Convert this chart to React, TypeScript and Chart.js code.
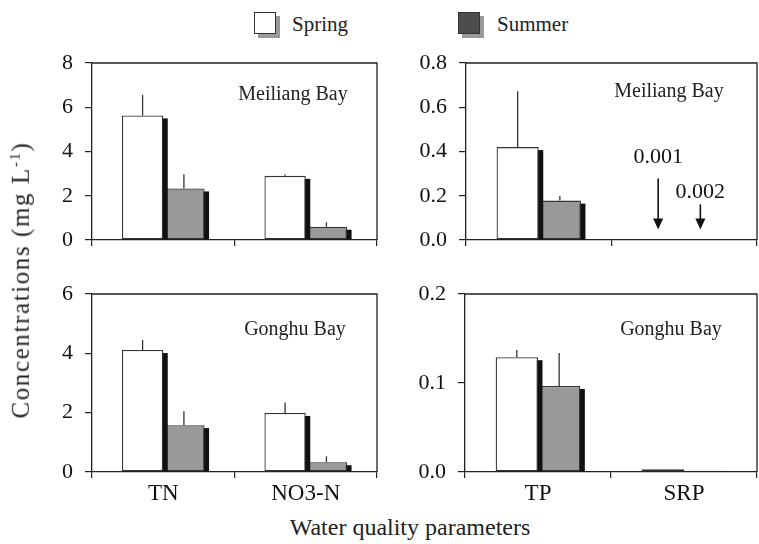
import React, { useEffect, useRef } from 'react';
import { Chart, registerables } from 'chart.js';

Chart.register(...registerables);

const FONT = '"Liberation Serif", "Times New Roman", Times, "DejaVu Serif", serif';

// ---- data ----
const nCategories = ['TN', 'NO3-N'];
const pCategories = ['TP', 'SRP'];
const seriesNames = ['Spring', 'Summer'];

const meiliangNSpring = [5.63, 2.9];
const meiliangNSummer = [2.33, 0.6];
const meiliangNSpringErr = [0.93, 0.07];
const meiliangNSummerErr = [0.64, 0.2];

const meiliangPSpring = [0.42, 0.001];
const meiliangPSummer = [0.178, 0.002];
const meiliangPSpringErr = [0.252, 0];
const meiliangPSummerErr = [0.021, 0];

const gonghuNSpring = [4.11, 1.99];
const gonghuNSummer = [1.58, 0.33];
const gonghuNSpringErr = [0.34, 0.35];
const gonghuNSummerErr = [0.47, 0.2];

const gonghuPSpring = [0.129, 0.003];
const gonghuPSummer = [0.0966, 0.0015];
const gonghuPSpringErr = [0.008, 0];
const gonghuPSummerErr = [0.037, 0];

const nTicksMeiliang = [0, 2, 4, 6, 8];
const pTicksMeiliang = [0, 0.2, 0.4, 0.6, 0.8];
const nTicksGonghu = [0, 2, 4, 6];
const pTicksGonghu = [0, 0.1, 0.2];

type Arrow = { dataset: number; index: number; text: string; tail: number; labelOffset: number };

type PanelProps = {
  left: number;
  top: number;
  width: number;
  height: number;
  axisWidth: number;
  axisHeight: number;
  padRight: number;
  labels: string[];
  spring: number[];
  summer: number[];
  springErr: number[];
  summerErr: number[];
  ticks: number[];
  decimals: number;
  title: string;
  titleDx: number;
  titleDy: number;
  showX: boolean;
  arrows?: Arrow[];
};

function Panel(p: PanelProps) {
  const ref = useRef<HTMLCanvasElement | null>(null);
  useEffect(() => {
    if (!ref.current) return;
    const errs = [p.springErr, p.summerErr];
    const panelPlugin = {
      id: 'panelDecor',
      beforeDatasetDraw(chart: any, args: any) {
        const ctx = chart.ctx;
        ctx.save();
        ctx.fillStyle = '#111111';
        args.meta.data.forEach((el: any) => {
          const { x, y, base, width } = el.getProps(['x', 'y', 'base', 'width'], true);
          const h = base - y - 3;
          if (h > 0) ctx.fillRect(x - width / 2 + 4.5, y + 3, width, h);
        });
        ctx.restore();
      },
      afterDatasetsDraw(chart: any) {
        const ctx = chart.ctx;
        const ys = chart.scales.y;
        ctx.save();
        ctx.strokeStyle = '#333333';
        ctx.lineWidth = 1.3;
        chart.data.datasets.forEach((ds: any, i: number) => {
          const meta = chart.getDatasetMeta(i);
          meta.data.forEach((el: any, j: number) => {
            const e = errs[i][j];
            if (!e) return;
            const { x, y } = el.getProps(['x', 'y'], true);
            const yt = ys.getPixelForValue(ds.data[j] + e);
            ctx.beginPath();
            ctx.moveTo(x, y);
            ctx.lineTo(x, yt);
            ctx.stroke();
          });
        });
        ctx.restore();
      },
      afterDraw(chart: any) {
        const ctx = chart.ctx;
        const a = chart.chartArea;
        ctx.save();
        ctx.strokeStyle = '#222222';
        ctx.lineWidth = 1.3;
        ctx.beginPath();
        ctx.moveTo(a.left, a.top);
        ctx.lineTo(a.right, a.top);
        ctx.lineTo(a.right, a.bottom);
        ctx.stroke();
        ctx.fillStyle = '#222222';
        ctx.font = `20px ${FONT}`;
        ctx.textAlign = 'center';
        ctx.textBaseline = 'middle';
        ctx.fillText(p.title, a.right - p.titleDx, a.top + p.titleDy);
        (p.arrows || []).forEach((ar) => {
          const el = chart.getDatasetMeta(ar.dataset).data[ar.index];
          const { x, base } = el.getProps(['x', 'base'], true);
          const ax = x - 5;
          const tip = base - 10;
          const tail = base - ar.tail;
          ctx.strokeStyle = '#111111';
          ctx.lineWidth = 1.6;
          ctx.beginPath();
          ctx.moveTo(ax, tail);
          ctx.lineTo(ax, tip - 10);
          ctx.stroke();
          ctx.fillStyle = '#111111';
          ctx.beginPath();
          ctx.moveTo(ax - 5, tip - 11);
          ctx.lineTo(ax + 5, tip - 11);
          ctx.lineTo(ax, tip);
          ctx.closePath();
          ctx.fill();
          ctx.font = `22px ${FONT}`;
          ctx.fillText(ar.text, ax, base - ar.labelOffset);
        });
        ctx.restore();
      },
    };
    const chart = new Chart(ref.current, {
      type: 'bar',
      data: {
        labels: p.labels,
        datasets: [
          {
            label: seriesNames[0],
            data: p.spring,
            backgroundColor: '#ffffff',
            borderColor: '#333333',
            borderWidth: 1.3,
            borderSkipped: false,
            categoryPercentage: 0.58,
            barPercentage: 1,
          },
          {
            label: seriesNames[1],
            data: p.summer,
            backgroundColor: '#999999',
            borderColor: '#333333',
            borderWidth: 1.3,
            borderSkipped: false,
            categoryPercentage: 0.58,
            barPercentage: 1,
          },
        ],
      },
      options: {
        responsive: false,
        animation: false,
        layout: { padding: { top: 0, right: p.padRight, left: 0, bottom: 0 } },
        plugins: { legend: { display: false }, tooltip: { enabled: false } },
        scales: {
          x: {
            grid: { offset: true, drawOnChartArea: false, drawTicks: true, tickLength: 6, color: '#222222', lineWidth: 1.2 },
            border: { color: '#222222', width: 1.3 },
            ticks: { display: p.showX, font: { family: FONT, size: 23 }, color: '#111111', padding: 2, maxRotation: 0 },
            afterFit: (s: any) => {
              s.height = p.axisHeight;
            },
          },
          y: {
            min: 0,
            max: p.ticks[p.ticks.length - 1],
            afterBuildTicks: (s: any) => {
              s.ticks = p.ticks.map((v) => ({ value: v }));
            },
            grid: { drawOnChartArea: false, drawTicks: true, tickLength: 7, color: '#222222', lineWidth: 1.2 },
            border: { color: '#222222', width: 1.3 },
            ticks: {
              font: { family: FONT, size: 22, lineHeight: 1 },
              color: '#111111',
              padding: 12,
              callback: (v: any) => Number(v).toFixed(p.decimals),
            },
            afterFit: (s: any) => {
              s.width = p.axisWidth;
            },
          },
        },
      },
      plugins: [panelPlugin],
    } as any);
    return () => chart.destroy();
  }, []);
  return (
    <canvas
      ref={ref}
      width={p.width}
      height={p.height}
      style={{ position: 'absolute', left: p.left, top: p.top, width: p.width, height: p.height }}
    />
  );
}

export default function App() {
  const textStyle: React.CSSProperties = {
    position: 'absolute',
    fontFamily: FONT,
    color: '#222222',
    whiteSpace: 'nowrap',
  };
  return (
    <div style={{ position: 'absolute', left: 0, top: 0, width: 759, height: 544, background: '#ffffff', overflow: 'hidden' }}>
      {/* legend */}
      <div style={{ position: 'absolute', left: 254, top: 12, width: 22, height: 22, background: '#ffffff', border: '1px solid #333333', boxSizing: 'border-box', boxShadow: '4px 4px 0 #9a9a9a' }} />
      <div style={{ ...textStyle, left: 292, top: 12, height: 24, lineHeight: '24px', fontSize: 21 }}>{seriesNames[0]}</div>
      <div style={{ position: 'absolute', left: 458, top: 12, width: 22, height: 22, background: '#4d4d4d', border: '1px solid #333333', boxSizing: 'border-box', boxShadow: '4px 4px 0 #9a9a9a' }} />
      <div style={{ ...textStyle, left: 497, top: 12, height: 24, lineHeight: '24px', fontSize: 21 }}>{seriesNames[1]}</div>

      <Panel left={30} top={40} width={350} height={223} axisWidth={62} axisHeight={23} padRight={3}
        labels={nCategories} spring={meiliangNSpring} summer={meiliangNSummer} springErr={meiliangNSpringErr} summerErr={meiliangNSummerErr}
        ticks={nTicksMeiliang} decimals={0} title="Meiliang Bay" titleDx={84} titleDy={32} showX={false} />
      <Panel left={400} top={40} width={359} height={223} axisWidth={66} axisHeight={23} padRight={2}
        labels={pCategories} spring={meiliangPSpring} summer={meiliangPSummer} springErr={meiliangPSpringErr} summerErr={meiliangPSummerErr}
        ticks={pTicksMeiliang} decimals={1} title="Meiliang Bay" titleDx={88} titleDy={29} showX={false}
        arrows={[
          { dataset: 0, index: 1, text: meiliangPSpring[1].toFixed(3), tail: 61, labelOffset: 82 },
          { dataset: 1, index: 1, text: meiliangPSummer[1].toFixed(3), tail: 35, labelOffset: 47 },
        ]} />
      <Panel left={30} top={271} width={350} height={239} axisWidth={62} axisHeight={38} padRight={3}
        labels={nCategories} spring={gonghuNSpring} summer={gonghuNSummer} springErr={gonghuNSpringErr} summerErr={gonghuNSummerErr}
        ticks={nTicksGonghu} decimals={0} title="Gonghu Bay" titleDx={82} titleDy={36} showX={true} />
      <Panel left={400} top={271} width={359} height={239} axisWidth={65} axisHeight={38} padRight={2}
        labels={pCategories} spring={gonghuPSpring} summer={gonghuPSummer} springErr={gonghuPSpringErr} summerErr={gonghuPSummerErr}
        ticks={pTicksGonghu} decimals={1} title="Gonghu Bay" titleDx={86} titleDy={36} showX={true} />

      {/* axis titles */}
      <div style={{ ...textStyle, left: 21, top: 280, fontSize: 25, letterSpacing: '1.6px', transform: 'translate(-50%, -50%) rotate(-90deg)' }}>
        Concentrations (mg L<sup style={{ fontSize: 15 }}>-1</sup>)
      </div>
      <div style={{ ...textStyle, left: 410, top: 527, fontSize: 24, transform: 'translate(-50%, -50%)' }}>
        Water quality parameters
      </div>
    </div>
  );
}
